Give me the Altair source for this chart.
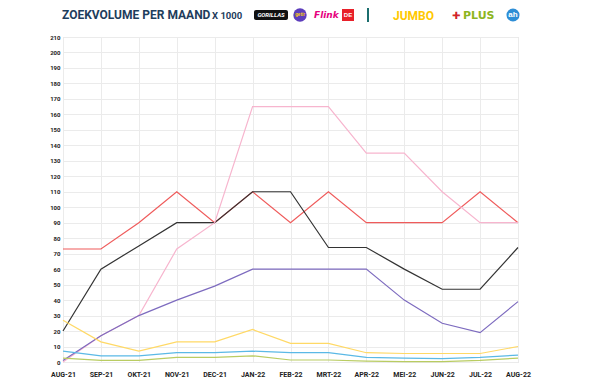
import altair as alt
import pandas as pd

months = ["AUG-21", "SEP-21", "OKT-21", "NOV-21", "DEC-21", "JAN-22", "FEB-22",
          "MRT-22", "APR-22", "MEI-22", "JUN-22", "JUL-22", "AUG-22"]

zapp = [73, 73, 90, 110, 90, 110, 90, 110, 90, 90, 90, 110, 90]
gorillas = [20, 60, 75, 90, 90, 110, 110, 74, 74, 60, 47, 47, 74]
flink = [0, 17, 30, 73, 90, 165, 165, 165, 135, 135, 110, 90, 90]
getir = [1, 17, 30, 40, 49, 60, 60, 60, 60, 40, 25, 19, 39]
jumbo = [27, 13, 7, 13, 13, 21, 12, 12, 6, 5.5, 5.5, 5.5, 10]
ah = [7, 4, 4, 6, 6, 7, 6, 6, 3, 2.5, 2.2, 3, 4.5]
plus = [2.5, 1, 1, 3, 3, 4, 1.3, 1.3, 0.6, 0.3, 0.3, 1.1, 2.5]

series = {
    "Zapp": zapp,
    "Gorillas": gorillas,
    "Flink": flink,
    "Getir": getir,
    "Jumbo": jumbo,
    "AH": ah,
    "Plus": plus,
}
series_names = list(series.keys())
series_colors = ["#ef5b5b", "#333333", "#f7b5ce", "#7d6bbf", "#ffd966", "#5bb9e6", "#b9cc62"]

rows = []
for name, vals in series.items():
    for m, v in zip(months, vals):
        rows.append({"maand": m, "waarde": v, "serie": name})
df = pd.DataFrame(rows)

hfont = "Roboto"

lines = alt.Chart(df).mark_line(strokeWidth=1.2).encode(
    x=alt.X("maand:N", sort=months,
            scale=alt.Scale(type="point", padding=0),
            axis=alt.Axis(title=None, labelAngle=0, ticks=False, domain=False,
                          grid=True, gridColor="#ebebeb", labelPadding=8,
                          labelFontSize=7, labelFontWeight="bold",
                          labelFont=hfont, labelColor="#222222")),
    y=alt.Y("waarde:Q",
            scale=alt.Scale(domain=[0, 210], nice=False, zero=True),
            axis=alt.Axis(title=None, values=list(range(0, 211, 10)), ticks=False,
                          domain=False, grid=True, gridColor="#ebebeb", labelPadding=3,
                          labelFontSize=6, labelFontWeight="bold",
                          labelFont=hfont, labelColor="#222222")),
    color=alt.Color("serie:N", scale=alt.Scale(domain=series_names, range=series_colors),
                    legend=None),
    detail="serie:N",
)

one = pd.DataFrame({"k": [0]})

title = alt.Chart(one).mark_text(
    text="ZOEKVOLUME PER MAAND", align="left", baseline="middle",
    font=hfont, fontSize=12, fontWeight="bold", color="#1e3d5c"
).encode(x=alt.value(-1), y=alt.value(-22))

x1000 = alt.Chart(one).mark_text(
    text="X 1000", align="left", baseline="middle",
    font=hfont, fontSize=9.5, fontWeight="bold", color="#1e3d5c"
).encode(x=alt.value(149), y=alt.value(-21.5))

gor_box = alt.Chart(one).mark_rect(color="#111111", cornerRadius=2).encode(
    x=alt.value(191), x2=alt.value(225), y=alt.value(-27), y2=alt.value(-17))
gor_txt = alt.Chart(one).mark_text(
    text="GORILLAS", align="center", baseline="middle", font=hfont,
    fontSize=6, fontWeight="bold", fontStyle="italic", color="white"
).encode(x=alt.value(208), y=alt.value(-22))

getir_c = alt.Chart(one).mark_point(filled=True, shape="circle", size=180,
                                    color="#5d3ebc", opacity=1).encode(
    x=alt.value(237), y=alt.value(-22))
getir_t = alt.Chart(one).mark_text(text="getir", fontSize=4.5, fontWeight="bold",
                                   color="#ffd300", align="center", baseline="middle").encode(
    x=alt.value(237), y=alt.value(-22))

flink_t = alt.Chart(one).mark_text(
    text="Flink", align="left", baseline="middle", fontSize=9, fontWeight="bold",
    fontStyle="italic", color="#e6007e", font="DejaVu Sans"
).encode(x=alt.value(251), y=alt.value(-22))

red_box = alt.Chart(one).mark_rect(color="#e8202a").encode(
    x=alt.value(279), x2=alt.value(291), y=alt.value(-28), y2=alt.value(-16))
red_t = alt.Chart(one).mark_text(text="DE", fontSize=6, fontWeight="bold",
                                 color="white", align="center", baseline="middle").encode(
    x=alt.value(285), y=alt.value(-22))

bar = alt.Chart(one).mark_rule(color="#1b6e6e", strokeWidth=2).encode(
    x=alt.value(305), y=alt.value(-29), y2=alt.value(-15))

jumbo_t = alt.Chart(one).mark_text(
    text="JUMBO", align="left", baseline="middle", fontSize=12, fontWeight="bold",
    color="#ffc800", font=hfont
).encode(x=alt.value(330), y=alt.value(-21))

plus_icon = alt.Chart(one).mark_text(
    text="✚", align="left", baseline="middle", fontSize=10,
    color="#d2232a", font="DejaVu Sans"
).encode(x=alt.value(389), y=alt.value(-21))

plus_t = alt.Chart(one).mark_text(
    text="PLUS", align="left", baseline="middle", fontSize=11, fontWeight="bold",
    color="#8db520", font="DejaVu Sans"
).encode(x=alt.value(400), y=alt.value(-21))

ah_c = alt.Chart(one).mark_point(filled=True, shape="circle", size=170,
                                 color="#2e8ed6", opacity=1).encode(
    x=alt.value(450), y=alt.value(-22))
ah_t = alt.Chart(one).mark_text(text="ah", fontSize=8, fontWeight="bold",
                                color="white", align="center", baseline="middle").encode(
    x=alt.value(450), y=alt.value(-22))

chart = alt.layer(
    lines, title, x1000, gor_box, gor_txt, getir_c, getir_t, flink_t,
    red_box, red_t, bar, jumbo_t, plus_icon, plus_t, ah_c, ah_t
).properties(
    width=455, height=325,
    padding={"left": 55, "top": 29, "right": 70, "bottom": 18},
    autosize=alt.AutoSizeParams(type="none"),
).configure_view(stroke=None).configure(background="white")

chart.save("out.html", embed_options={"renderer": "svg", "actions": False})
